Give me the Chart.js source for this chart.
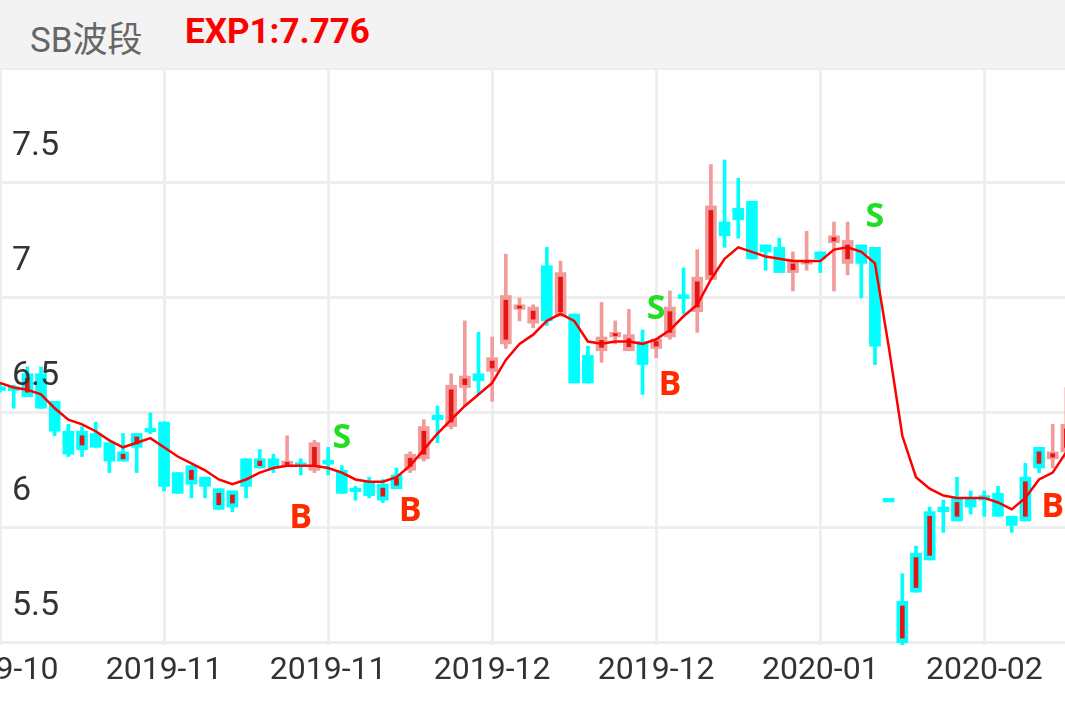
<!DOCTYPE html>
<html><head><meta charset="utf-8">
<script src="https://cdn.jsdelivr.net/npm/chart.js@4"></script>
<style>
body{margin:0;width:1065px;height:708px;background:#fff;overflow:hidden;font-family:Roboto,"Noto Sans CJK SC",sans-serif}
#hdr{position:absolute;left:0;top:0;width:1065px;height:68px;background:#f3f3f3}
#t1{position:absolute;left:30px;top:11px;font-size:35px;color:#666}
#t2{position:absolute;left:185px;top:11px;font-size:35px;color:#f00;font-weight:bold}
#wrap{position:absolute;left:0;top:68px;width:1065px;height:640px}
</style></head><body>
<div id="hdr"><span id="t1">SB波段</span><span id="t2">EXP1:7.776</span></div>
<div id="wrap"><canvas id="c"></canvas></div>
<script>
const opens = [6.61,6.61,6.57,6.67,6.55,6.42,6.34,6.41,6.37,6.29,6.35,6.43,6.46,6.24,6.27,6.18,6.17,6.09,6.18,6.30,6.26,6.29,6.27,6.37,6.28,6.25,6.17,6.20,6.12,6.17,6.25,6.30,6.49,6.44,6.61,6.67,6.68,6.80,6.95,6.96,6.90,7.11,6.93,6.63,6.77,6.85,6.84,6.71,6.82,6.83,7.01,6.94,7.08,7.33,7.39,7.42,7.23,7.22,7.11,7.15,7.20,7.24,7.15,7.23,7.22,6.12,5.50,5.72,5.86,6.09,6.03,6.13,6.14,6.15,6.05,6.03,6.26,6.30,6.33];
const closes = [6.60,6.60,6.67,6.52,6.42,6.32,6.42,6.35,6.29,6.33,6.41,6.42,6.18,6.15,6.19,6.22,6.08,6.16,6.30,6.26,6.30,6.27,6.28,6.25,6.29,6.15,6.16,6.14,6.19,6.23,6.32,6.44,6.47,6.62,6.66,6.64,6.74,7.01,6.97,6.89,7.14,6.92,6.63,6.75,6.83,6.83,6.77,6.81,6.78,6.96,7.00,7.09,7.40,7.27,7.34,7.17,7.20,7.11,7.16,7.16,7.17,7.27,7.25,7.15,6.79,6.12,5.68,5.89,6.07,6.07,6.13,6.09,6.12,6.05,6.01,6.22,6.35,6.33,6.45];
const highs = [6.63,6.62,6.70,6.70,6.55,6.45,6.44,6.46,6.37,6.41,6.41,6.50,6.46,6.24,6.27,6.22,6.17,6.16,6.30,6.34,6.32,6.40,6.30,6.38,6.35,6.27,6.18,6.22,6.21,6.26,6.33,6.47,6.53,6.67,6.90,6.85,6.83,7.19,7.00,6.97,7.22,7.16,6.93,6.79,6.98,6.90,6.95,6.86,6.82,7.03,7.13,7.21,7.58,7.60,7.52,7.42,7.23,7.26,7.20,7.29,7.20,7.33,7.33,7.23,7.22,6.12,5.80,5.92,6.09,6.12,6.22,6.16,6.16,6.18,6.05,6.28,6.35,6.45,6.61];
const lows = [6.59,6.52,6.57,6.52,6.40,6.31,6.31,6.35,6.24,6.29,6.24,6.41,6.16,6.15,6.13,6.13,6.08,6.07,6.13,6.26,6.24,6.27,6.23,6.24,6.23,6.15,6.12,6.13,6.11,6.17,6.24,6.29,6.37,6.43,6.53,6.58,6.55,6.78,6.90,6.87,6.88,6.92,6.63,6.63,6.72,6.80,6.77,6.58,6.74,6.82,6.93,6.85,7.08,7.22,7.26,7.17,7.12,7.11,7.03,7.12,7.11,7.03,7.10,7.00,6.71,6.12,5.45,5.72,5.86,5.98,6.03,6.06,6.05,6.05,5.98,6.03,6.24,6.26,6.30];
const kinds = "ccxcccxccxxcccxcxxcxcpcpccccxxppcppcppppcpccpppcppcppcccccppcppcccxxxcxccccxxpp".split("");
const exp1 = [6.63,6.61,6.60,6.58,6.52,6.47,6.45,6.42,6.38,6.35,6.37,6.39,6.35,6.31,6.28,6.25,6.21,6.19,6.21,6.24,6.26,6.27,6.27,6.27,6.26,6.24,6.21,6.20,6.20,6.22,6.27,6.34,6.41,6.47,6.53,6.58,6.63,6.73,6.80,6.84,6.90,6.93,6.90,6.81,6.80,6.81,6.81,6.80,6.82,6.86,6.92,6.97,7.08,7.17,7.22,7.20,7.18,7.17,7.16,7.16,7.16,7.21,7.22,7.20,7.15,6.79,6.40,6.22,6.17,6.14,6.13,6.13,6.13,6.11,6.08,6.13,6.21,6.24,6.33];
const signals = [{i:25,t:"S",v:6.39},{i:48,t:"S",v:6.95},{i:64,t:"S",v:7.35},{i:22,t:"B",v:6.04},{i:30,t:"B",v:6.07},{i:49,t:"B",v:6.62},{i:77,t:"B",v:6.09}];
const xLabels = ["2019-10","2019-11","2019-11","2019-12","2019-12","2020-01","2020-02"];
const yTicks = [5.5,6,6.5,7,7.5];
const yText = ["5.5","6","6.5","7","7.5"];

const CY='#00ffff', PK='#f29b9b', RD='#e81414';
const idx = opens.map((_,i)=>i);
const body = idx.map(i=>{let o=opens[i],c=closes[i];if(Math.abs(o-c)<0.012){const m=(o+c)/2;o=m+0.008;c=m-0.008;}return {x:i,y:[o,c]};});
const wick = idx.map(i=>({x:i,y:[lows[i],highs[i]]}));
const inner = idx.map(i=>{if(kinds[i]==='c')return {x:i,y:null};const a=Math.min(opens[i],closes[i]),b=Math.max(opens[i],closes[i]);const p=Math.min(0.02,(b-a)/4);return {x:i,y:[a+p,b-p]};});
const col = i=>kinds[i]==='p'?PK:CY;

const overlay={id:'ov',afterDatasetsDraw(ch){
  const ctx=ch.ctx,xs=ch.scales.x,ys=ch.scales.y;
  ctx.save();
  ctx.font='34px Roboto';ctx.fillStyle='#333';ctx.textAlign='left';ctx.textBaseline='middle';
  yTicks.forEach((v,k)=>ctx.fillText(yText[k],12,ys.getPixelForValue(v)-36));
  ctx.font='32px Roboto';ctx.textAlign='center';ctx.textBaseline='middle';
  xLabels.forEach((t,k)=>ctx.fillText(t,xs.getPixelForValue(k*12),ch.chartArea.bottom+26));
  ctx.font='bold 34px "Open Sans"';
  signals.forEach(s=>{ctx.fillStyle=s.t==='S'?'#22dd22':'#ff2a00';ctx.fillText(s.t,xs.getPixelForValue(s.i),ys.getPixelForValue(s.v));});
  ctx.restore();
}};

new Chart(document.getElementById('c'),{
  data:{datasets:[
    {type:'line',data:idx.map(i=>({x:i,y:exp1[i]})),borderColor:'#ff0000',borderWidth:2.5,pointRadius:0,tension:0,order:1},
    {type:'bar',data:wick,backgroundColor:idx.map(col),barThickness:3,grouped:false,order:4},
    {type:'bar',data:body,backgroundColor:idx.map(col),barThickness:11,grouped:false,order:3},
    {type:'bar',data:inner,backgroundColor:RD,barThickness:4,grouped:false,order:2}
  ]},
  options:{responsive:true,maintainAspectRatio:false,animation:false,
    layout:{padding:0},
    plugins:{legend:{display:false},tooltip:{enabled:false}},
    scales:{
      x:{type:'linear',min:0,max:77.9,offset:false,
        afterBuildTicks(s){s.ticks=[0,12,24,36,48,60,72].map(v=>({value:v}));},
        afterFit(s){s.height=63;},
        ticks:{display:false},grid:{offset:false,color:'#eeeeee',lineWidth:3,drawTicks:false},border:{display:false}},
      y:{min:5.49,max:8.0,
        afterBuildTicks(s){s.ticks=yTicks.concat([8]).map(v=>({value:v}));},
        afterFit(s){s.width=0;},
        ticks:{display:false},grid:{color:'#eeeeee',lineWidth:3,drawTicks:false},border:{display:false}}
    }},
  plugins:[overlay]
});
</script></body></html>
